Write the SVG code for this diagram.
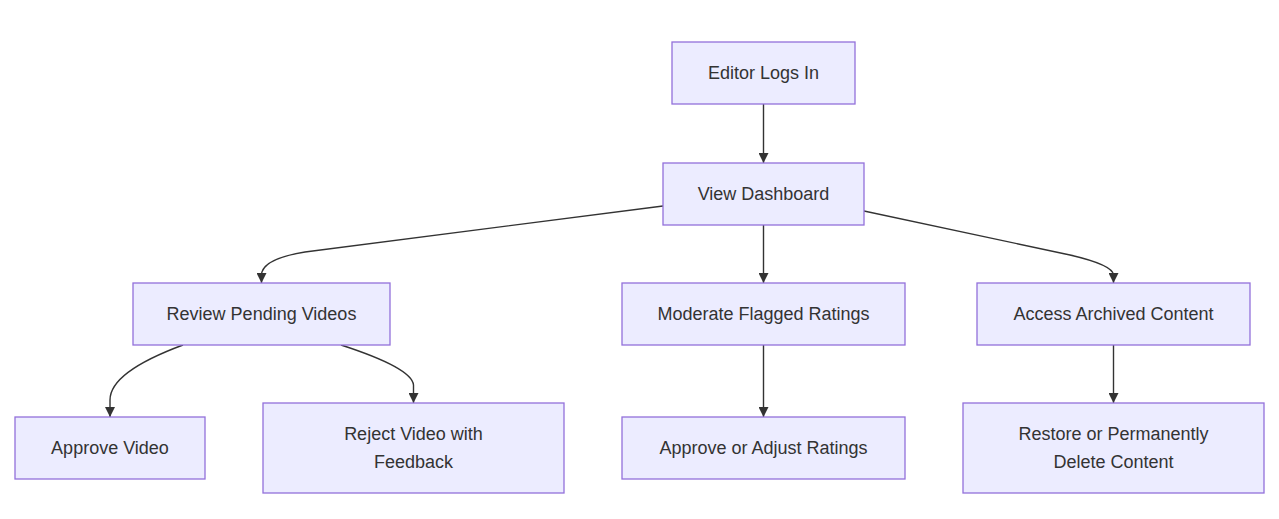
<svg xmlns="http://www.w3.org/2000/svg" width="1279" height="519" viewBox="0 0 1279 519">
<defs>
<style>
.node rect{fill:#ECECFF;stroke:#9370DB;stroke-width:1.3}
.node text{font-family:"Liberation Sans","DejaVu Sans",Arial,sans-serif;font-size:18px;fill:#333;text-anchor:middle;dominant-baseline:central}
.edge{fill:none;stroke:#333;stroke-width:1.4;marker-end:url(#arrow)}
</style>
<marker id="arrow" viewBox="0 0 10 10" refX="10" refY="5" markerUnits="userSpaceOnUse" markerWidth="10" markerHeight="10" orient="auto">
<path d="M0,0 L10,5 L0,10 z" fill="#333"/>
</marker>
</defs>
<rect width="1279" height="519" fill="#fff"/>
<g id="connectors">
<path class="edge" d="M763.5,104 L763.5,163"/>
<path class="edge" d="M663,206 L305,252 Q262,259 261.5,275 L261.5,283"/>
<path class="edge" d="M763.5,225 L763.5,283"/>
<path class="edge" d="M864,211 L1070,255 Q1113,265 1113.5,275 L1113.5,283"/>
<path class="edge" d="M183,345 Q110,372 110,400 L110,417"/>
<path class="edge" d="M341,345 Q412,368 413.5,385 L413.5,403"/>
<path class="edge" d="M763.5,345 L763.5,417"/>
<path class="edge" d="M1113.5,345 L1113.5,403"/>
</g>
<g id="editor" class="node"><rect x="672" y="42" width="183" height="62"/><text x="763.5" y="73">Editor Logs In</text></g>
<g id="dashboard" class="node"><rect x="663" y="163" width="201" height="62"/><text x="763.5" y="194">View Dashboard</text></g>
<g id="review" class="node"><rect x="133" y="283" width="257" height="62"/><text x="261.5" y="314">Review Pending Videos</text></g>
<g id="moderate" class="node"><rect x="622" y="283" width="283" height="62"/><text x="763.5" y="314">Moderate Flagged Ratings</text></g>
<g id="archived" class="node"><rect x="977" y="283" width="273" height="62"/><text x="1113.5" y="314">Access Archived Content</text></g>
<g id="approve" class="node"><rect x="15" y="417" width="190" height="62"/><text x="110" y="448">Approve Video</text></g>
<g id="reject" class="node"><rect x="263" y="403" width="301" height="90"/><text x="413.5" y="434">Reject Video with</text><text x="413.5" y="462">Feedback</text></g>
<g id="adjust" class="node"><rect x="622" y="417" width="283" height="62"/><text x="763.5" y="448">Approve or Adjust Ratings</text></g>
<g id="restore" class="node"><rect x="963" y="403" width="301" height="90"/><text x="1113.5" y="434">Restore or Permanently</text><text x="1113.5" y="462">Delete Content</text></g>
</svg>
